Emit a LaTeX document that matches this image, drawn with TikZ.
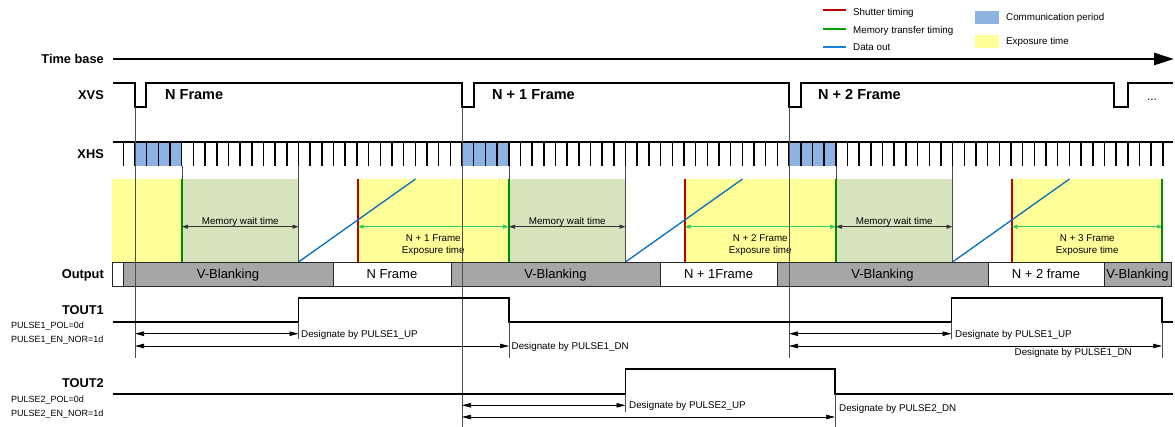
\documentclass[tikz,border=0pt]{standalone}
\usepackage{fontspec}
\setmainfont{Liberation Sans}
\usetikzlibrary{arrows.meta}
\definecolor{ExpYellow}{HTML}{FFFF99}
\definecolor{WaitGreen}{HTML}{D7E4BD}
\definecolor{CommBlue}{HTML}{8DB3E2}
\definecolor{BlankGray}{HTML}{A6A6A6}
\definecolor{ShutRed}{HTML}{C00000}
\definecolor{MemGreen}{HTML}{008A00}
\definecolor{DataBlue}{HTML}{0070C0}
\definecolor{ExpArrow}{HTML}{33CC66}
\definecolor{KeyGreen}{HTML}{00A000}
\definecolor{KeyBlue}{HTML}{1A80D8}

\begin{document}
\begin{tikzpicture}[x=1pt,y=-1pt,
  sig/.style={line width=1.7pt},
  guide/.style={line width=0.6pt,color=black!70},
  rowlabel/.style={anchor=base east,inner sep=0pt,font=\fontsize{12.8}{15}\selectfont\bfseries},
  framelabel/.style={anchor=base west,inner sep=0pt,font=\fontsize{14.5}{17}\selectfont\bfseries},
  note/.style={anchor=base west,inner sep=0pt,font=\fontsize{9.8}{12}\selectfont},
  reglabel/.style={anchor=base west,inner sep=0pt,font=\fontsize{9}{11}\selectfont},
  outcell/.style={draw=black!85,line width=0.9pt},
  celltext/.style={anchor=base,inner sep=0pt,font=\fontsize{13}{15}\selectfont},
  dimarrow/.style={{Triangle[length=9pt,width=4.5pt]}-{Triangle[length=9pt,width=4.5pt]},line width=0.7pt},
  waitarrow/.style={{Triangle[length=6pt,width=4pt]}-{Triangle[length=6pt,width=4pt]},line width=0.7pt,color=black!80},
  expoarrow/.style={{Triangle[length=6pt,width=4pt]}-{Triangle[length=6pt,width=4pt]},line width=0.9pt,color=ExpArrow},
  shutline/.style={line width=2pt,color=ShutRed},
  memline/.style={line width=2pt,color=MemGreen},
  dataline/.style={line width=1.3pt,color=DataBlue},
  keyline/.style={line width=2pt}
]
  \useasboundingbox (0,0) rectangle (1175,427);

  \draw[keyline,draw=ShutRed] (823,10.5) -- (846,10.5);
  \draw[keyline,draw=KeyGreen] (823,29.5) -- (846,29.5);
  \draw[keyline,draw=KeyBlue] (823,47.5) -- (846,47.5);
  \node[note] (lg1) at (853,15.2) {Shutter timing};
  \node[note] (lg2) at (853,33.5) {Memory transfer timing};
  \node[note] (lg3) at (853,50.5) {Data out};
  \fill[CommBlue] (975,11) rectangle (999,24);
  \fill[ExpYellow] (975,35) rectangle (999,47.7);
  \node[note] (lg4) at (1006,20.5) {Communication period};
  \node[note] (lg5) at (1006,44.5) {Exposure time};

  \node[rowlabel] (tb) at (104,64) {Time base};
  \node[rowlabel] (xvs) at (104,100) {XVS};
  \node[rowlabel] (xhs) at (104,159) {XHS};
  \node[rowlabel] (out) at (104,279) {Output};
  \node[rowlabel] (tout1) at (104,315) {TOUT1};
  \node[rowlabel] (tout2) at (104,387.3) {TOUT2};

  \coordinate (tb-start) at (113,59);
  \coordinate (tb-end) at (1174,59);
  \draw[line width=2.6pt,-{Triangle[length=20pt,width=12pt]}] (tb-start) -- (tb-end);

  \draw[sig] (113,83) -| (135,107) -| (146,83) -| (462,107) -| (474,83) -| (789,107) -| (801,83)
    -| (1114,107) -| (1128,83) -- (1173,83);
  \node[framelabel] (fr0) at (165,100) {N Frame};
  \node[framelabel] (fr1) at (492,100) {N + 1 Frame};
  \node[framelabel] (fr2) at (818,100) {N + 2 Frame};
  \node[anchor=base,inner sep=0pt,font=\fontsize{12}{14}\selectfont] (more) at (1152,100.5) {...};

  \foreach \f in {135,462,789}
    \fill[CommBlue] (\f,142) rectangle ++(46.7,24);
  \draw[sig] (113,142) -- (1173,142);
  \foreach \k in {-1,...,88}
    \draw[line width=1.5pt] ({135+\k*11.68},142) -- ++(0,24);

  \fill[ExpYellow] (112,179) rectangle (182,262);
  \foreach \f in {135,462,789}{
    \fill[WaitGreen] ({\f+47},179) rectangle ({\f+163.5},262);
    \fill[ExpYellow] ({\f+222.5},179) rectangle ({\f+374},262);
  }
  \foreach \f/\n in {135/1,462/2,789/3}{
    \draw[memline] ({\f+47},179) -- ({\f+47},262);
    \draw[shutline] ({\f+222.5},179) -- ({\f+222.5},262);
    \draw[dataline] ({\f+163.5},262) -- ({\f+280.5},179);
    \draw[waitarrow] ({\f+47},226.7) -- ({\f+163.5},226.7);
    \node[note,anchor=base] (mw\n) at ({\f+105.25},224.5) {Memory wait time};
    \draw[expoarrow] ({\f+222.5},226.7) -- ({\f+374},226.7);
    \node[note,anchor=base] (ex\n) at ({\f+298.25},241.2) {N + \n\ Frame};
    \node[note,anchor=base] (et\n) at ({\f+298.25},253.8) {Exposure time};
  }
  \draw[memline] (1162,179) -- (1162,262);

  \foreach \a/\b/\c/\t [count=\i] in {112/123/white/, 123/333/BlankGray/V-Blanking,
      333/451/white/N Frame, 451/660/BlankGray/V-Blanking, 660/777/white/N + 1Frame,
      777/988/BlankGray/V-Blanking, 988/1104/white/N + 2 frame, 1104/1171/BlankGray/V-Blanking}{
    \draw[outcell,fill=\c] (\a,262) rectangle (\b,286);
    \node[celltext] (oc\i) at ({(\a+\b)/2},278.5) {\t};
  }

  \draw[guide] (135,107) -- (135,358);
  \draw[guide] (462,107) -- (462,427);
  \draw[guide] (789,107) -- (789,358);
  \foreach \f in {135,462,789}{
    \draw[guide] ({\f+47},166) -- ({\f+47},179);
    \draw[guide] ({\f+163.5},166) -- ({\f+163.5},262);
  }

  \draw[sig] (113,321.7) -| (298.5,297.7) -| (509,321.7) -| (951.5,297.7) -| (1162,321.7) -- (1173,321.7);
  \node[reglabel] (pol1) at (11,328.2) {PULSE1\_POL=0d};
  \node[reglabel] (nor1) at (11,342.2) {PULSE1\_EN\_NOR=1d};
  \draw[guide] (298.5,321.7) -- (298.5,339);
  \draw[guide] (951.5,321.7) -- (951.5,339);
  \draw[guide] (509,321.7) -- (509,358);
  \draw[guide] (1162,321.7) -- (1162,358);
  \draw[dimarrow] (135,333.7) -- (298.5,333.7);
  \node[note] (up1a) at (301,337.2) {Designate by PULSE1\_UP};
  \draw[dimarrow] (135,346) -- (509,346);
  \node[note] (dn1a) at (511.5,349.5) {Designate by PULSE1\_DN};
  \draw[dimarrow] (789,333.7) -- (951.5,333.7);
  \node[note] (up1b) at (955,337.2) {Designate by PULSE1\_UP};
  \draw[dimarrow] (789,346) -- (1162,346);
  \node[note,anchor=base east] (dn1b) at (1132,355.5) {Designate by PULSE1\_DN};

  \draw[sig] (113,393.7) -| (625.5,369.3) -| (835,393.7) -- (1173,393.7);
  \node[reglabel] (pol2) at (11,402.5) {PULSE2\_POL=0d};
  \node[reglabel] (nor2) at (11,416.2) {PULSE2\_EN\_NOR=1d};
  \draw[guide] (625.5,393.7) -- (625.5,411.7);
  \draw[guide] (835,393.7) -- (835,427);
  \draw[dimarrow] (462,405.3) -- (625.5,405.3);
  \node[note] (up2) at (629,408.8) {Designate by PULSE2\_UP};
  \draw[dimarrow] (462,417) -- (835,417);
  \node[note] (dn2) at (839,411.8) {Designate by PULSE2\_DN};
\end{tikzpicture}
\end{document}
